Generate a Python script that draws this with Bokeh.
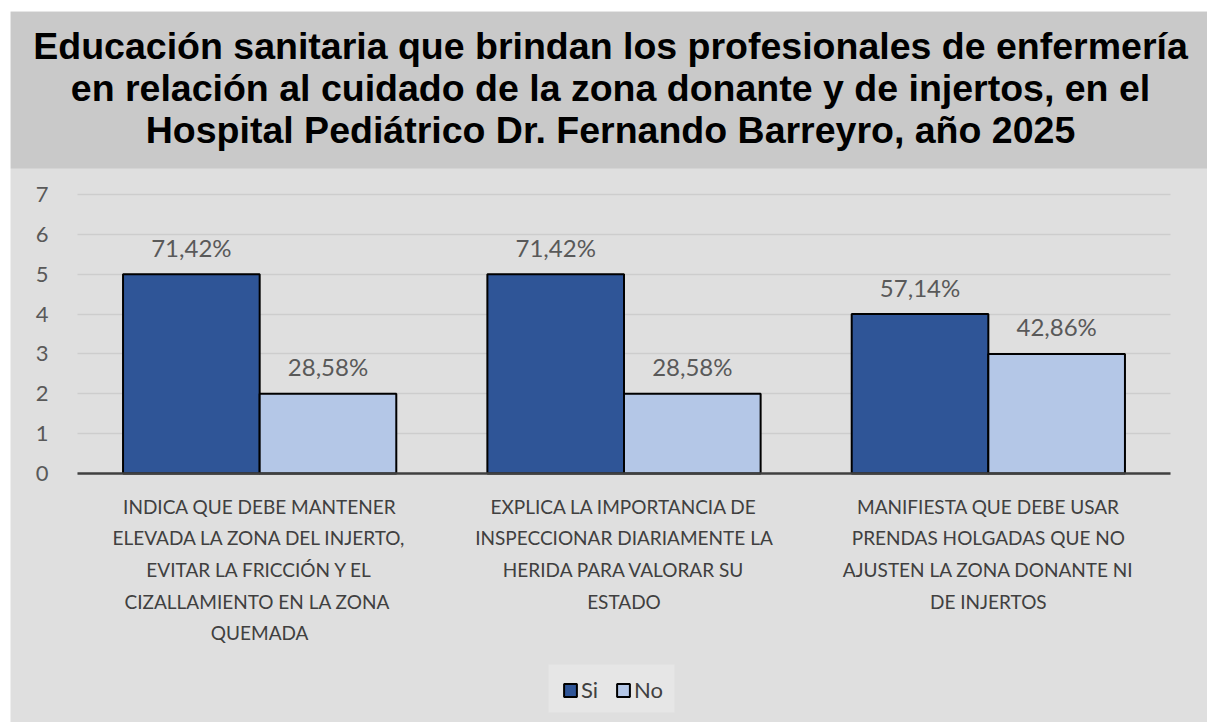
from bokeh.plotting import figure
from bokeh.models import (ColumnDataSource, Range1d, Label, Legend, LegendItem,
                          FixedTicker, BoxAnnotation)
from bokeh.transform import dodge
from bokeh.core.properties import value
from bokeh.embed import file_html
from bokeh.resources import INLINE

# ---------------- data ----------------
title_lines = [
    "Educación sanitaria que brindan los profesionales de enfermería",
    "en relación al cuidado de la zona donante y de injertos, en el",
    "Hospital Pediátrico Dr. Fernando Barreyro, año 2025",
]
categories = [
    "INDICA QUE DEBE MANTENER\nELEVADA LA ZONA DEL INJERTO,\nEVITAR LA FRICCIÓN Y EL\nCIZALLAMIENTO  EN LA ZONA\nQUEMADA",
    "EXPLICA LA IMPORTANCIA DE\nINSPECCIONAR DIARIAMENTE LA\nHERIDA PARA VALORAR SU\nESTADO",
    "MANIFIESTA QUE DEBE USAR\nPRENDAS HOLGADAS QUE NO\nAJUSTEN LA ZONA DONANTE NI\nDE INJERTOS",
]
si_values = [5, 5, 4]
no_values = [2, 2, 3]
si_labels = ["71,42%", "71,42%", "57,14%"]
no_labels = ["28,58%", "28,58%", "42,86%"]
series_names = ["Si", "No"]
y_ticks = [0, 1, 2, 3, 4, 5, 6, 7]

# ---------------- layout / styles ----------------
W, H = 1207, 722
FRAME_L, FRAME_T = 10, 11     # white strip left/top, as in the reference
PLOT_L, PLOT_R = 77, 1170     # page x of the category span
Y0_PX, Y7_PX = 473, 194       # page y of value 0 and value 7
PX_X = (PLOT_R - PLOT_L) / len(categories)
PX_Y = (Y0_PX - Y7_PX) / 7.0


def xd(px):
    return (px - PLOT_L) / PX_X


def yd(py):
    return (Y0_PX - py) / PX_Y


SI_COLOR = "#2F5597"
NO_COLOR = "#B4C7E7"
BG_TITLE = "#c9c9c9"
BG_CHART = "#dfdfdf"
FONT = "Lato"

cat_pos = [i + 0.5 for i in range(len(categories))]
source = ColumnDataSource(dict(x=cat_pos, si=si_values, no=no_values,
                               si_lbl=si_labels, no_lbl=no_labels))

p = figure(width=W, height=H,
           x_range=Range1d(xd(FRAME_L), xd(W)),
           y_range=Range1d(yd(H), yd(FRAME_T)),
           toolbar_location=None, output_backend="svg",
           min_border_left=FRAME_L, min_border_top=FRAME_T,
           min_border_right=0, min_border_bottom=0,
           border_fill_color="#ffffff", background_fill_color=BG_CHART,
           outline_line_color=None)

# title band + title text
p.add_layout(BoxAnnotation(bottom=yd(168), fill_color=BG_TITLE, fill_alpha=1.0,
                           line_color=None, level="underlay"))
for line, py in zip(title_lines, [45, 87, 129]):
    p.add_layout(Label(x=xd(610), y=yd(py), text=line,
                       text_align="center", text_baseline="alphabetic",
                       text_font="Liberation Sans", text_font_style="bold",
                       text_font_size="37.5px", text_color="#000000"))

# slightly lighter box behind the legend
p.add_layout(BoxAnnotation(left=xd(548), right=xd(674), bottom=yd(712), top=yd(664),
                           fill_color="#e6e6e6", fill_alpha=1.0, line_color=None,
                           level="underlay"))

bw = 0.375
r_si = p.vbar(x=dodge("x", -bw / 2), top="si", width=bw, source=source,
              fill_color=SI_COLOR, line_color="#000000", line_width=2)
r_no = p.vbar(x=dodge("x", bw / 2), top="no", width=bw, source=source,
              fill_color=NO_COLOR, line_color="#000000", line_width=2)

p.text(x=dodge("x", -bw / 2), y="si", text="si_lbl", source=source,
       text_align="center", text_baseline="middle", y_offset=-27,
       text_font=value(FONT), text_font_size="24px", text_color="#595959")
p.text(x=dodge("x", bw / 2), y="no", text="no_lbl", source=source,
       text_align="center", text_baseline="middle", y_offset=-27,
       text_font=value(FONT), text_font_size="24px", text_color="#595959")

# category axis drawn at value 0
xa = p.xaxis[0]
xa.fixed_location = 0
xa.bounds = (0, len(categories))
xa.ticker = FixedTicker(ticks=cat_pos)
xa.major_label_overrides = {cp: c for cp, c in zip(cat_pos, categories)}
xa.axis_line_color = "#404040"
xa.axis_line_width = 2.5
xa.major_tick_line_color = None
xa.minor_tick_line_color = None
xa.major_label_text_font = FONT
xa.major_label_text_font_size = "19px"
xa.major_label_text_color = "#404040"
xa.major_label_text_line_height = 1.38
xa.major_label_text_align = "center"
xa.major_label_standoff = 15

# value axis
ya = p.yaxis[0]
ya.fixed_location = xd(52)
ya.bounds = (0, 7)
ya.ticker = FixedTicker(ticks=y_ticks)
ya.axis_line_color = None
ya.major_tick_line_color = None
ya.minor_tick_line_color = None
ya.major_tick_out = 0
ya.major_label_text_font = FONT
ya.major_label_text_font_size = "22px"
ya.major_label_text_color = "#595959"
ya.major_label_standoff = 4

p.xgrid.grid_line_color = None
p.ygrid.ticker = FixedTicker(ticks=y_ticks)
p.ygrid.grid_line_color = "#cdcdcd"
p.ygrid.grid_line_width = 1.5
try:
    p.ygrid.cross_bounds = (0, len(categories))
except AttributeError:
    pass

legend = Legend(items=[LegendItem(label=series_names[0], renderers=[r_si]),
                       LegendItem(label=series_names[1], renderers=[r_no])],
                orientation="horizontal", location=(562 - FRAME_L, 19),
                label_text_font=FONT, label_text_font_size="22px",
                label_text_color="#404040", glyph_width=16, glyph_height=16,
                spacing=14, label_standoff=3, padding=0, margin=0,
                background_fill_alpha=0, border_line_color=None)
p.add_layout(legend, "center")

open("out.html", "w").write(file_html(p, INLINE))
